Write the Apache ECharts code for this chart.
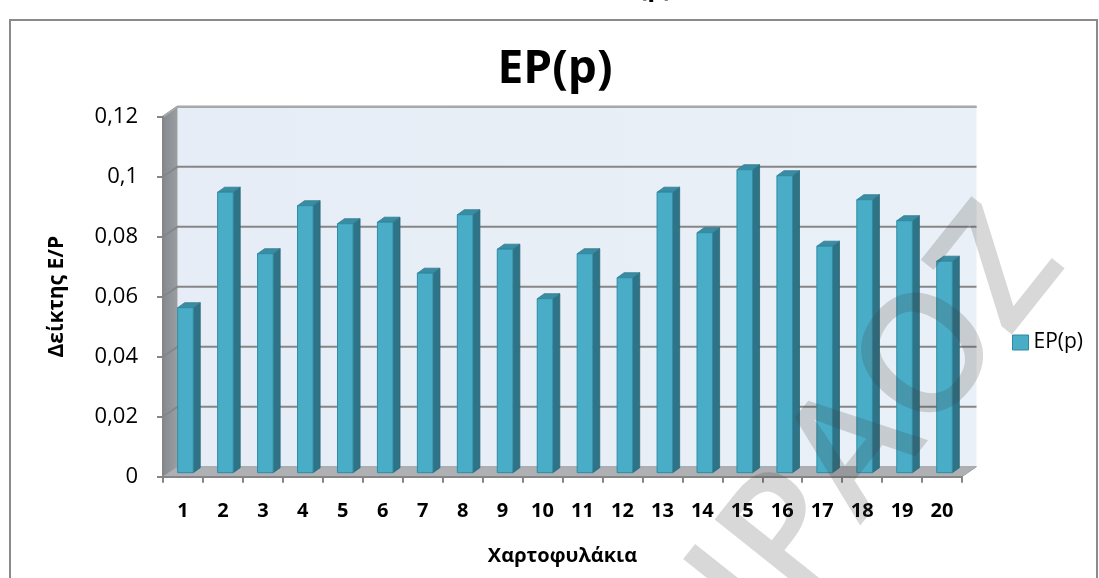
<!DOCTYPE html>
<html><head><meta charset="utf-8">
<script src="https://cdn.jsdelivr.net/npm/echarts@6/dist/echarts.min.js"></script>
<style>html,body{margin:0;padding:0;background:#fff}#c{width:1099px;height:578px}</style>
</head><body><div id="c"></div>
<script>
const categories = ['1','2','3','4','5','6','7','8','9','10','11','12','13','14','15','16','17','18','19','20'];
const epValues = [0.055, 0.0935, 0.073, 0.089, 0.083, 0.0835, 0.0665, 0.086, 0.0745, 0.058, 0.073, 0.065, 0.0935, 0.080, 0.101, 0.099, 0.0755, 0.091, 0.084, 0.0705];
const yTicks = [0, 0.02, 0.04, 0.06, 0.08, 0.1, 0.12];
const seriesName = 'EP(p)';
const titleText = 'EP(p)';
const xAxisName = 'Χαρτοφυλάκια';
const yAxisName = 'Δείκτης Ε/Ρ';
const watermarkText = 'ΙΡΑΟΖ';

const FONT = 'Open Sans';
const WALL = [14.5, -10];      // depth offset of back wall
const BAR_SHIFT = [2.5, -4];   // front face of bars relative to front plane
const BAR_DEPTH = [7, -5];
const GRID_COLOR = '#868686';

const chart = echarts.init(document.getElementById('c'), null, {renderer: 'canvas'});

function wallsRender(params, api) {
  const cs = params.coordSys;
  const x0 = cs.x, x1 = cs.x + cs.width, yb = cs.y + cs.height, yt = cs.y;
  const dx = WALL[0], dy = WALL[1];
  const children = [];
  children.push({type: 'rect', shape: {x: x0 + dx, y: yt + dy, width: cs.width, height: cs.height},
    style: {fill: new echarts.graphic.LinearGradient(0, 0, 1, 0, [{offset: 0, color: '#E6EDF6'}, {offset: 1, color: '#EAF0F7'}])}});
  children.push({type: 'polygon', shape: {points: [[x0, yt], [x0 + dx, yt + dy], [x0 + dx, yb + dy], [x0, yb]]},
    style: {fill: new echarts.graphic.LinearGradient(0, 0, 1, 0, [{offset: 0, color: '#858A90'}, {offset: 1, color: '#9A9EA3'}])}});
  children.push({type: 'polygon', shape: {points: [[x0, yb], [x0 + dx, yb + dy], [x1 + dx, yb + dy], [x1, yb]]},
    style: {fill: '#AEB0B3', stroke: '#A0A2A5', lineWidth: 1}});
  yTicks.forEach(function (t) {
    if (t === 0) return;
    const y = api.coord([0, t])[1];
    children.push({type: 'polyline', shape: {points: [[x0, y], [x0 + dx, y + dy], [x1 + dx, y + dy]]},
      style: {stroke: GRID_COLOR, lineWidth: 2, fill: null}});
  });
  children.push({type: 'polyline', shape: {points: [[x0, yt], [x0 + dx, yt + dy], [x1 + dx, yt + dy]]},
    style: {stroke: '#A9A9A9', lineWidth: 2, fill: null}});
  return {type: 'group', children: children};
}

function barRender(params, api) {
  const i = api.value(0), v = api.value(1);
  const base = api.coord([i, 0]);
  const top = api.coord([i, v]);
  const w = api.size([1, 0])[0] * 0.39;
  const cx = base[0] + BAR_SHIFT[0];
  const xl = cx - w / 2, xr = cx + w / 2;
  const yB = base[1] + BAR_SHIFT[1], yT = top[1] + BAR_SHIFT[1];
  const ddx = BAR_DEPTH[0], ddy = BAR_DEPTH[1];
  return {type: 'group', children: [
    {type: 'polygon', shape: {points: [[xr, yT], [xr + ddx, yT + ddy], [xr + ddx, yB + ddy], [xr, yB]]},
      style: {fill: '#2F7387', stroke: '#2A6779', lineWidth: 0.8}},
    {type: 'polygon', shape: {points: [[xl, yT], [xl + ddx, yT + ddy], [xr + ddx, yT + ddy], [xr, yT]]},
      style: {fill: '#3A8CA3', stroke: '#2E7C92', lineWidth: 0.8}},
    {type: 'rect', shape: {x: xl, y: yT, width: w, height: yB - yT},
      style: {fill: '#49ADC8', stroke: '#2F8AA3', lineWidth: 1}}
  ]};
}

const option = {
  animation: false,
  backgroundColor: '#fff',
  textStyle: {fontFamily: FONT},
  grid: {left: 163, top: 116.7, width: 799, height: 360, containLabel: false},
  legend: {
    data: [seriesName], left: 1007, top: 327, orient: 'vertical',
    itemWidth: 16, itemHeight: 15, itemGap: 6,
    icon: 'rect',
    itemStyle: {color: '#49ADC8', borderColor: '#2F8AA3', borderWidth: 1},
    textStyle: {fontFamily: FONT, fontSize: 21, color: '#000'}
  },
  xAxis: {
    type: 'category', data: categories, boundaryGap: true,
    axisLine: {show: true, lineStyle: {color: GRID_COLOR, width: 2}},
    axisTick: {show: true, length: 6, lineStyle: {color: GRID_COLOR, width: 2}},
    axisLabel: {fontFamily: FONT, fontWeight: 'bold', fontSize: 20, color: '#000', margin: 25, interval: 0},
    name: xAxisName, nameLocation: 'middle', nameGap: 70,
    nameTextStyle: {fontFamily: FONT, fontWeight: 'bold', fontSize: 20, color: '#000'},
    splitLine: {show: false}
  },
  yAxis: {
    type: 'value', min: 0, max: 0.12, interval: 0.02,
    axisLine: {show: true, lineStyle: {color: GRID_COLOR, width: 2}},
    axisTick: {show: true, length: 6, lineStyle: {color: GRID_COLOR, width: 2}},
    axisLabel: {fontFamily: FONT, fontSize: 22, color: '#000', margin: 25,
      formatter: function (v) { return String(+v.toFixed(4)).replace('.', ','); }},
    name: yAxisName, nameLocation: 'middle', nameRotate: 90, nameGap: 95,
    nameTextStyle: {fontFamily: FONT, fontWeight: 'bold', fontSize: 21, color: '#000'},
    splitLine: {show: false}
  },
  graphic: [
    {type: 'rect', z: -10, shape: {x: 10, y: 20, width: 1087, height: 600},
      style: {fill: null, stroke: '#8A8A8A', lineWidth: 2}},
    {type: 'text', x: 640, y: 2, style: {text: titleText, font: 'bold 26px "Open Sans"', fill: '#000',
      textAlign: 'center', textVerticalAlign: 'bottom'}},
    {type: 'text', x: 555, y: 70, style: {text: titleText, font: 'bold 46px "Open Sans"', fill: '#000',
      textAlign: 'center', textVerticalAlign: 'middle'}},
    {type: 'text', x: 880, y: 425, rotation: 0.9, z: 100, silent: true,
      style: {text: watermarkText, font: '600 165px "Open Sans"', fill: 'rgba(60,60,60,0.2)',
        textAlign: 'center', textVerticalAlign: 'middle'}}
  ],
  series: [
    {type: 'custom', name: 'walls', z: 0, silent: true, renderItem: wallsRender, data: [[0, 0]], encode: {x: 0, y: 1}},
    {type: 'custom', name: seriesName, z: 2, renderItem: barRender,
      itemStyle: {color: '#49ADC8'},
      data: epValues.map(function (v, i) { return [i, v]; }), encode: {x: 0, y: 1}}
  ]
};
chart.setOption(option);
</script>
</body></html>
